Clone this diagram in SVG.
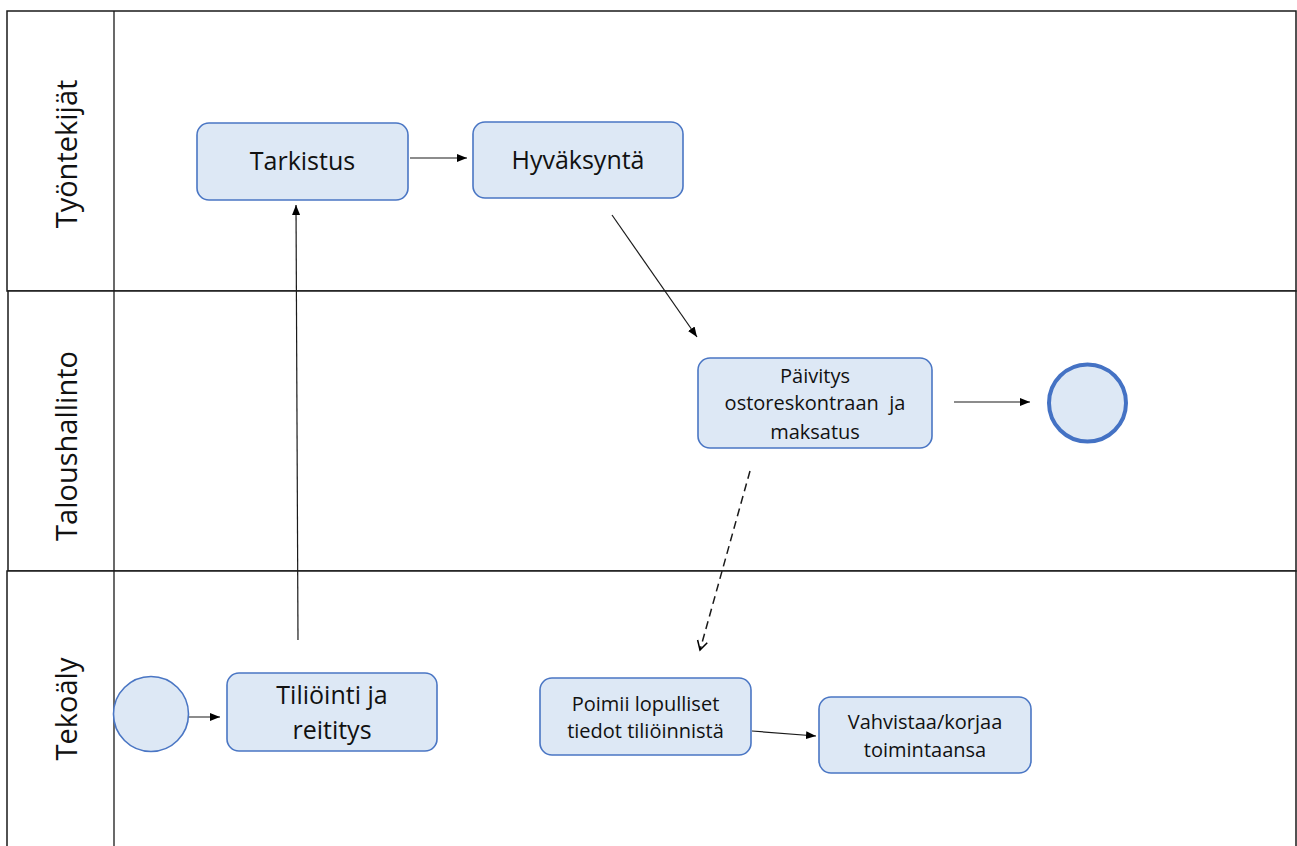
<svg xmlns="http://www.w3.org/2000/svg" width="1297" height="846" viewBox="0 0 1297 846">
  <style>
    .lane { fill: #ffffff; stroke: #1a1a1a; stroke-width: 1.5; }
    .lanelabel { font-family: "Open Sans", "Noto Sans", sans-serif; font-size: 29px; fill: #111111; text-anchor: middle; }
    .box { fill: #dde8f5; stroke: #4a76c4; stroke-width: 1.6; }
    .t-big { font-family: "Open Sans", "Noto Sans", sans-serif; font-size: 25px; fill: #111111; text-anchor: middle; }
    .t-small { font-family: "Open Sans", "Noto Sans", sans-serif; font-size: 20px; fill: #111111; text-anchor: middle; }
    .conn { fill: none; stroke: #1a1a1a; stroke-width: 1.2; }
    .dash { stroke-dasharray: 8 5; stroke-width: 1.5; }
  </style>
  <defs>
    <marker id="arr" viewBox="0 0 10 8" refX="10" refY="4" markerWidth="10" markerHeight="8" markerUnits="userSpaceOnUse" orient="auto">
      <path d="M0,0 L10,4 L0,8 z" fill="#000000"/>
    </marker>
    <marker id="open" viewBox="0 0 12 12" refX="10" refY="6" markerWidth="12" markerHeight="12" markerUnits="userSpaceOnUse" orient="auto">
      <path d="M1,1 L10,6 L1,11" fill="none" stroke="#000000" stroke-width="1.5"/>
    </marker>
  </defs>

  <rect x="0" y="0" width="1297" height="846" fill="#ffffff"/>

  <g id="lanes">
    <rect class="lane" x="7" y="11" width="1289" height="280"/>
    <rect class="lane" x="8" y="291" width="1288" height="280"/>
    <rect class="lane" x="7" y="571" width="1289" height="290"/>
    <line x1="114" y1="11" x2="114" y2="846" stroke="#1a1a1a" stroke-width="1.3"/>
    <text class="lanelabel" transform="translate(77,154) rotate(-90)">Työntekijät</text>
    <text class="lanelabel" transform="translate(77,446) rotate(-90)">Taloushallinto</text>
    <text class="lanelabel" transform="translate(77,709) rotate(-90)">Tekoäly</text>
  </g>

  <g id="connectors">
    <line class="conn" x1="410" y1="158" x2="467" y2="158" marker-end="url(#arr)"/>
    <line class="conn" x1="298" y1="640" x2="296" y2="205" marker-end="url(#arr)"/>
    <line class="conn" x1="612" y1="215" x2="697" y2="337" marker-end="url(#arr)"/>
    <line class="conn" x1="954" y1="402" x2="1030" y2="402" marker-end="url(#arr)"/>
    <line class="conn dash" x1="750" y1="471" x2="700" y2="650" marker-end="url(#open)"/>
    <line class="conn" x1="184" y1="717" x2="220" y2="717" marker-end="url(#arr)"/>
    <line class="conn" x1="752" y1="731" x2="816" y2="736" marker-end="url(#arr)"/>
  </g>

  <g id="start">
    <circle cx="151" cy="714" r="37.5" fill="#dde8f5" stroke="#4a76c4" stroke-width="1.6"/>
  </g>

  <g id="end">
    <circle cx="1087.5" cy="403" r="38.5" fill="#dde8f5" stroke="#4472c4" stroke-width="4"/>
  </g>

  <g id="tarkistus">
    <rect class="box" x="197" y="123" width="211" height="77" rx="12"/>
    <text class="t-big" x="302.5" y="170">Tarkistus</text>
  </g>

  <g id="hyvaksynta">
    <rect class="box" x="473" y="122" width="210" height="76" rx="12"/>
    <text class="t-big" x="578" y="169">Hyväksyntä</text>
  </g>

  <g id="paivitys">
    <rect class="box" x="698" y="358" width="234" height="90" rx="12"/>
    <text class="t-small" x="815" y="383">Päivitys</text>
    <text class="t-small" x="815" y="410" xml:space="preserve">ostoreskontraan  ja</text>
    <text class="t-small" x="815" y="439">maksatus</text>
  </g>

  <g id="tilointi">
    <rect class="box" x="227" y="673" width="210" height="78" rx="12"/>
    <text class="t-big" x="332" y="704">Tiliöinti ja</text>
    <text class="t-big" x="332" y="739">reititys</text>
  </g>

  <g id="poimii">
    <rect class="box" x="540" y="678" width="211" height="77" rx="12"/>
    <text class="t-small" x="645.5" y="711">Poimii lopulliset</text>
    <text class="t-small" x="645.5" y="738">tiedot tiliöinnistä</text>
  </g>

  <g id="vahvistaa">
    <rect class="box" x="819" y="697" width="212" height="76" rx="12"/>
    <text class="t-small" x="925" y="729">Vahvistaa/korjaa</text>
    <text class="t-small" x="925" y="757">toimintaansa</text>
  </g>
</svg>
